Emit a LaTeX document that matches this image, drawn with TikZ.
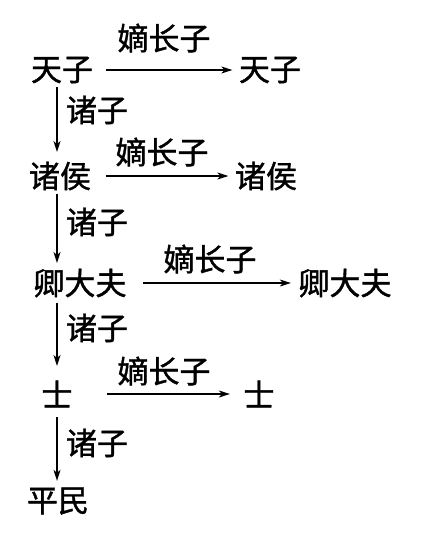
\documentclass[tikz,border=0pt]{standalone}
\usepackage{fontspec}
\setmainfont[FakeBold=1.2]{Noto Sans CJK SC}
\usetikzlibrary{arrows.meta}
\begin{document}
\begin{tikzpicture}[>={Stealth[length=11pt,width=7pt,inset=3pt]}, x=1pt, y=-1pt, color=black, line width=1.3pt,
	every node/.style={inner sep=0pt, font=\fontsize{31}{31}\selectfont}]
		\useasboundingbox (0,0) rectangle (444,536);
		\coordinate (axis) at (57,0);
		% left column
		\node (tz) at (62,70) {天子};
		\node (zh) at (60,176) {诸侯};
		\node (qdf) at (80,283) {卿大夫};
		\node (shi) at (57,394) {士};
		\node (pm) at (58,501) {平民};
		% right column
		\node (tz2) at (270,70) {天子};
		\node (zh2) at (266,176) {诸侯};
		\node (qdf2) at (345,283) {卿大夫};
		\node (shi2) at (259,394) {士};
		% horizontal arrows
		\draw[->, shorten <=12pt, shorten >=6pt] (tz.east) -- (tz2.west);
		\node at (164,38) {嫡长子};
		\draw[->, shorten <=14pt, shorten >=6pt] (zh.east) -- (zh2.west);
		\node at (162,152) {嫡长子};
		\draw[->, shorten <=16pt, shorten >=7pt] (qdf.east) -- (qdf2.west);
		\node at (210,259) {嫡长子};
		\draw[->, shorten <=34pt, shorten >=13pt] (shi.east) -- (shi2.west);
		\node at (164,371) {嫡长子};
		% vertical arrows
		\draw[->, shorten <=3pt, shorten >=9pt] (tz.south -| axis) -- (zh.north -| axis);
		\node at (97,110) {诸子};
		\draw[->, shorten <=3pt, shorten >=5pt] (zh.south -| axis) -- (qdf.north -| axis);
		\node at (97,222) {诸子};
		\draw[->, shorten <=5pt, shorten >=14pt] (qdf.south -| axis) -- (shi.north -| axis);
		\node at (97,328) {诸子};
		\draw[->, shorten <=9pt, shorten >=6pt] (shi.south -| axis) -- (pm.north -| axis);
		\node at (97,443) {诸子};
\end{tikzpicture}
\end{document}
